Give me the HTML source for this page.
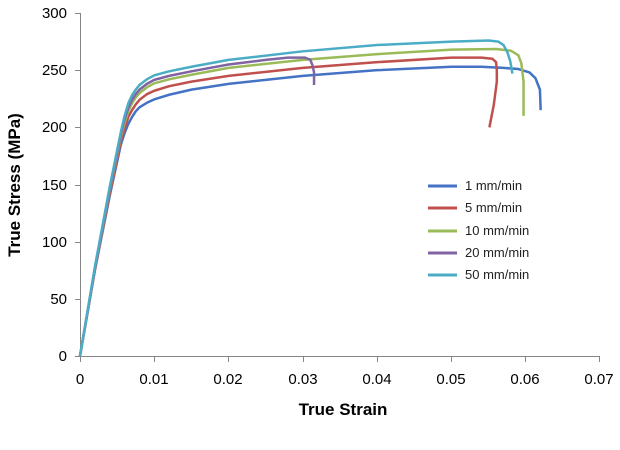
<!DOCTYPE html>
<html><head><meta charset="utf-8"><style>
html,body{margin:0;padding:0;background:#fff;}
svg{display:block;font-family:"Liberation Sans",sans-serif;}
</style></head><body>
<svg width="620" height="450" viewBox="0 0 620 450">
<g stroke="#868686" stroke-width="1" fill="none">
<line x1="80.5" y1="13" x2="80.5" y2="356"/>
<line x1="80" y1="356.5" x2="600" y2="356.5"/>
<line x1="75" y1="13.5" x2="80" y2="13.5"/>
<line x1="75" y1="70.5" x2="80" y2="70.5"/>
<line x1="75" y1="127.5" x2="80" y2="127.5"/>
<line x1="75" y1="185.5" x2="80" y2="185.5"/>
<line x1="75" y1="242.5" x2="80" y2="242.5"/>
<line x1="75" y1="299.5" x2="80" y2="299.5"/>
<line x1="75" y1="356.5" x2="80" y2="356.5"/>
<line x1="80.5" y1="356" x2="80.5" y2="362"/>
<line x1="154.5" y1="356" x2="154.5" y2="362"/>
<line x1="228.5" y1="356" x2="228.5" y2="362"/>
<line x1="303.5" y1="356" x2="303.5" y2="362"/>
<line x1="377.5" y1="356" x2="377.5" y2="362"/>
<line x1="451.5" y1="356" x2="451.5" y2="362"/>
<line x1="525.5" y1="356" x2="525.5" y2="362"/>
<line x1="599.5" y1="356" x2="599.5" y2="362"/>
</g>
<g font-size="15" fill="#000" text-anchor="end">
<text x="67" y="18">300</text><text x="67" y="75">250</text><text x="67" y="132">200</text>
<text x="67" y="190">150</text><text x="67" y="247">100</text><text x="67" y="304">50</text><text x="67" y="361">0</text>
</g>
<g font-size="15" fill="#000" text-anchor="middle">
<text x="80" y="384">0</text><text x="154" y="384">0.01</text><text x="228" y="384">0.02</text>
<text x="303" y="384">0.03</text><text x="377" y="384">0.04</text><text x="451" y="384">0.05</text>
<text x="525" y="384">0.06</text><text x="599" y="384">0.07</text>
</g>
<text x="343" y="415" font-size="17" font-weight="bold" text-anchor="middle">True Strain</text>
<text transform="translate(20,185) rotate(-90)" font-size="17" font-weight="bold" text-anchor="middle">True Stress (MPa)</text>
<g transform="translate(80,356) scale(7430,-1.1433)" fill="none" stroke-width="2.5" stroke-linejoin="round">
<path vector-effect="non-scaling-stroke" stroke="#4472c4" d="M0,0 L0.002,75 L0.004,140 L0.0055,185 L0.006,195 L0.0065,203 L0.007,209 L0.0075,214 L0.008,217.5 L0.009,221.5 L0.01,224.5 L0.012,228.5 L0.015,233 L0.02,238 L0.03,245 L0.04,250 L0.05,253 L0.054,253 L0.057,252 L0.059,251 L0.0605,248 L0.0613,243 L0.0619,233 L0.062,215"/>
<path vector-effect="non-scaling-stroke" stroke="#c0504d" d="M0,0 L0.002,75 L0.004,142 L0.0055,188 L0.006,199 L0.0065,209 L0.007,215 L0.0075,220 L0.008,224 L0.009,229 L0.01,232 L0.012,236 L0.015,240 L0.02,245 L0.03,252 L0.04,257 L0.05,261 L0.054,261 L0.0555,260 L0.056,257 L0.0561,250 L0.0561,240 L0.0557,220 L0.0551,200"/>
<path vector-effect="non-scaling-stroke" stroke="#9bbb59" d="M0,0 L0.002,76 L0.004,145 L0.0055,192 L0.006,204 L0.0065,214 L0.007,221 L0.0075,226 L0.008,230 L0.009,235 L0.01,238.5 L0.012,242 L0.015,246 L0.02,252 L0.03,259 L0.04,264 L0.05,268 L0.056,268.5 L0.058,267 L0.059,263 L0.0594,256 L0.0597,240 L0.0597,210"/>
<path vector-effect="non-scaling-stroke" stroke="#8064a2" d="M0,0 L0.002,76 L0.004,146 L0.0055,194 L0.006,207 L0.0065,217 L0.007,224 L0.0075,229 L0.008,233 L0.009,238 L0.01,241.5 L0.012,245 L0.015,249 L0.02,255 L0.025,259 L0.028,261 L0.0303,261 L0.031,259 L0.0313,254 L0.0315,248 L0.0315,237"/>
<path vector-effect="non-scaling-stroke" stroke="#4bacc6" d="M0,0 L0.002,78 L0.004,148 L0.0055,196 L0.006,210 L0.0065,221 L0.007,228 L0.0075,233 L0.008,237 L0.009,242 L0.01,245.5 L0.012,249 L0.015,253 L0.02,259 L0.03,266.5 L0.04,272 L0.05,275 L0.055,276 L0.0563,275 L0.057,272 L0.0575,266 L0.0579,258 L0.0582,247"/>
</g>
<g stroke-width="3">
<line x1="428" y1="186" x2="457" y2="186" stroke="#4472c4"/>
<line x1="428" y1="208" x2="457" y2="208" stroke="#c0504d"/>
<line x1="428" y1="231" x2="457" y2="231" stroke="#9bbb59"/>
<line x1="428" y1="253" x2="457" y2="253" stroke="#8064a2"/>
<line x1="428" y1="275" x2="457" y2="275" stroke="#4bacc6"/>
</g>
<g font-size="13" fill="#222">
<text x="465" y="190">1 mm/min</text>
<text x="465" y="212">5 mm/min</text>
<text x="465" y="235">10 mm/min</text>
<text x="465" y="257">20 mm/min</text>
<text x="465" y="279">50 mm/min</text>
</g>
</svg>
</body></html>
